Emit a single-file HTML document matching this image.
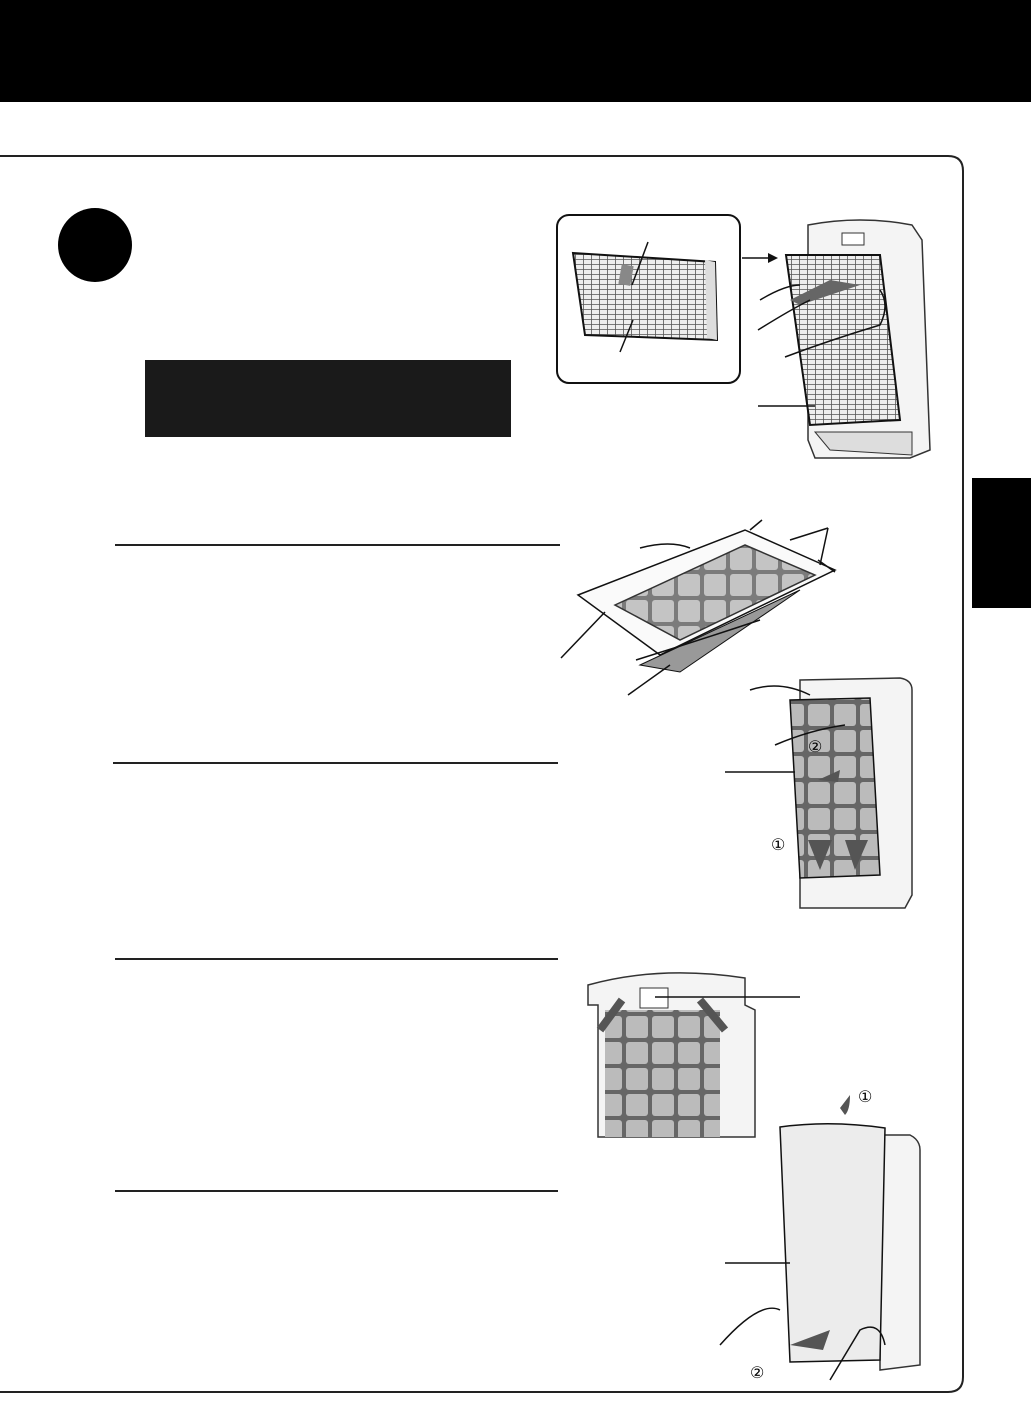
<!DOCTYPE html>
<html><head><meta charset="utf-8"><style>
html,body{margin:0;padding:0;background:#fff;}
body{width:1031px;height:1404px;position:relative;overflow:hidden;font-family:"Liberation Sans",sans-serif;}
</style></head><body>
<svg width="1031" height="1404" viewBox="0 0 1031 1404" xmlns="http://www.w3.org/2000/svg" style="position:absolute;left:0;top:0">
<defs>
<pattern id="grid" width="8" height="5" patternUnits="userSpaceOnUse"><rect width="8" height="5" fill="#eee"/><path d="M0 4.5H8M7.5 0V5" stroke="#555" stroke-width="0.8"/></pattern>
<pattern id="cells" width="26" height="26" patternUnits="userSpaceOnUse"><rect width="26" height="26" fill="#666"/><rect x="2" y="2" width="22" height="22" rx="3" fill="#bbb"/></pattern>
</defs>
<rect x="0" y="0" width="1031" height="102" fill="#000"/>
<path d="M-10 156 H948 Q963 156 963 171 V1377 Q963 1392 948 1392 H-10" fill="none" stroke="#222" stroke-width="2"/>
<rect x="972" y="478" width="59" height="130" fill="#000"/>
<circle cx="95" cy="245" r="37" fill="#000"/>
<rect x="145" y="360" width="366" height="77" fill="#1a1a1a"/>
<g stroke="#222" stroke-width="2">
<line x1="115" y1="545" x2="560" y2="545"/>
<line x1="113" y1="763" x2="558" y2="763"/>
<line x1="115" y1="959" x2="558" y2="959"/>
<line x1="115" y1="1191" x2="558" y2="1191"/>
</g>
<!-- inset box -->
<rect x="557" y="215" width="183" height="168" rx="12" fill="#fff" stroke="#111" stroke-width="2"/>
<polygon points="573,253 715,262 717,340 585,335" fill="url(#grid)" stroke="#111" stroke-width="2"/>
<polygon points="715,262 705,260 707,338 717,340" fill="#ddd"/>
<rect x="620" y="265" width="12" height="20" fill="#888" transform="rotate(10 626 275)"/>
<line x1="648" y1="242" x2="632" y2="285" stroke="#111" stroke-width="1.5"/>
<line x1="620" y1="352" x2="633" y2="320" stroke="#111" stroke-width="1.5"/>
<line x1="742" y1="258" x2="768" y2="258" stroke="#111" stroke-width="1.5"/>
<polygon points="768,253 778,258 768,263" fill="#111"/>
<!-- unit 1 -->
<path d="M808 225 Q860 215 912 225 L922 240 L930 450 L910 458 L815 458 L808 440 Z" fill="#f4f4f4" stroke="#333" stroke-width="1.5"/>
<rect x="842" y="233" width="22" height="12" fill="#fff" stroke="#333"/>
<polygon points="786,255 880,255 900,420 810,425" fill="url(#grid)" stroke="#111" stroke-width="2"/>
<polygon points="790,300 830,280 860,285 800,305" fill="#666"/>
<path d="M760 300 Q785 285 800 285 M758 330 Q790 310 810 300 M785 357 Q830 340 880 325 Q890 305 880 290" fill="none" stroke="#111" stroke-width="1.5"/>
<line x1="758" y1="406" x2="815" y2="406" stroke="#111" stroke-width="1.5"/>
<path d="M815 432 H912 L912 455 L830 450 Z" fill="#ddd" stroke="#333"/>
<!-- panel 2 -->
<polygon points="578,595 745,530 835,570 660,655" fill="#fafafa" stroke="#111" stroke-width="1.5"/>
<polygon points="615,605 745,545 815,575 680,640" fill="url(#cells)" stroke="#111" stroke-width="1.5" opacity="0.85"/>
<polygon points="640,665 800,590 680,672" fill="#999" stroke="#111"/>
<path d="M750 530 L762 520 M818 560 L835 572 M790 540 L828 528 M820 565 L828 528" stroke="#111" stroke-width="1.5" fill="none"/>
<path d="M640 548 Q670 540 690 548 M636 660 Q700 640 760 620" fill="none" stroke="#111" stroke-width="1.5"/>
<line x1="561" y1="658" x2="605" y2="612" stroke="#111" stroke-width="1.5"/>
<line x1="628" y1="695" x2="670" y2="665" stroke="#111" stroke-width="1.5"/>
<!-- unit 2 -->
<path d="M800 680 L900 678 Q912 680 912 690 L912 895 L905 908 L800 908 Z" fill="#f4f4f4" stroke="#333" stroke-width="1.5"/>
<polygon points="790,700 870,698 880,875 800,878" fill="url(#cells)" stroke="#111" stroke-width="1.5"/>
<path d="M750 690 Q780 680 810 695 M775 745 Q810 730 845 725" fill="none" stroke="#111" stroke-width="1.5"/>
<path d="M818 780 L840 770 L838 782 Z M808 840 L820 870 L832 840 Z M845 840 L855 870 L868 840 Z" fill="#555"/>
<line x1="725" y1="772" x2="795" y2="772" stroke="#111" stroke-width="1.5"/>
<text x="808" y="752" font-size="16">②</text>
<text x="771" y="850" font-size="16">①</text>
<!-- unit 3 -->
<path d="M588 985 Q660 965 745 978 L745 1005 L755 1010 L755 1137 L598 1137 L598 1005 L588 1005 Z" fill="#f4f4f4" stroke="#333" stroke-width="1.5"/>
<rect x="605" y="1010" width="115" height="127" fill="url(#cells)"/>
<rect x="640" y="988" width="28" height="20" fill="#fff" stroke="#333"/>
<path d="M600 1030 L622 1000 M725 1030 L700 1000" stroke="#555" stroke-width="8"/>
<line x1="655" y1="997" x2="800" y2="997" stroke="#111" stroke-width="1.5"/>
<!-- unit 4 -->
<path d="M880 1135 L910 1135 Q920 1140 920 1150 V1365 L880 1370 Z" fill="#f4f4f4" stroke="#333" stroke-width="1.5"/>
<path d="M780 1127 Q830 1120 885 1128 L880 1360 L790 1362 Z" fill="#ececec" stroke="#111" stroke-width="1.5"/>
<path d="M850 1095 Q850 1110 845 1115 L840 1108 Z M790 1345 L830 1330 L823 1350 Z" fill="#555"/>
<path d="M720 1345 Q760 1300 780 1310 M830 1380 L860 1330 Q880 1320 885 1345" fill="none" stroke="#111" stroke-width="1.5"/>
<line x1="725" y1="1263" x2="790" y2="1263" stroke="#111" stroke-width="1.5"/>
<text x="858" y="1102" font-size="16">①</text>
<text x="750" y="1378" font-size="16">②</text>
</svg>
</body></html>
